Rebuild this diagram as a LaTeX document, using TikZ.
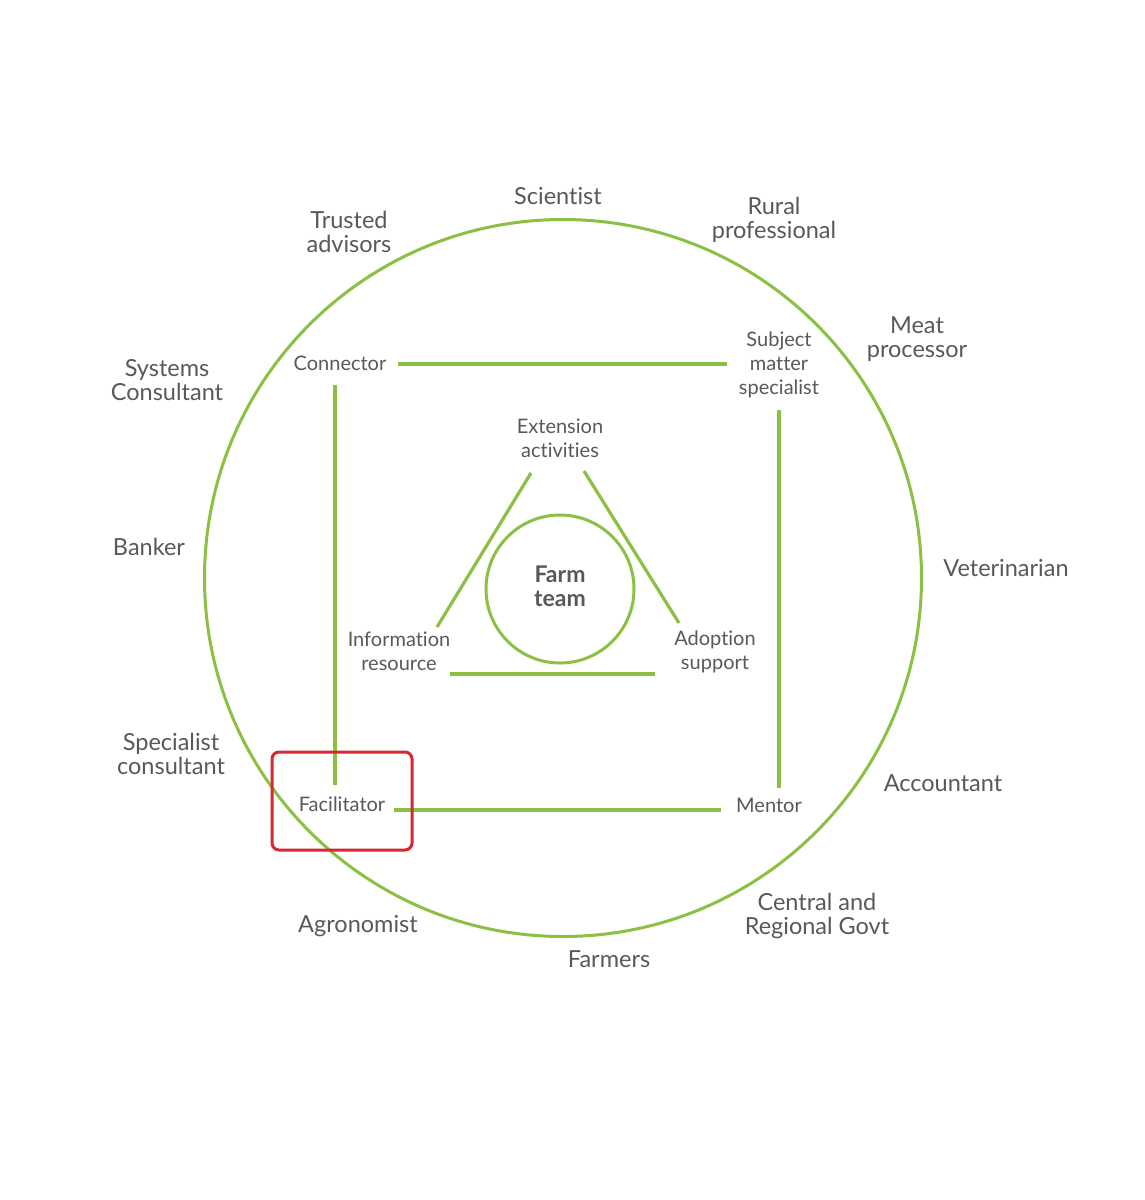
\documentclass[tikz,border=0pt]{standalone}
\usepackage{fontspec}
\setmainfont[Ligatures=NoCommon]{Lato}
\definecolor{leaf}{HTML}{8CC043}
\definecolor{txt}{HTML}{58595B}
\definecolor{boxred}{HTML}{D7282F}
\begin{document}
\begin{tikzpicture}[x=1pt,y=-1pt,
  gl/.style={draw=leaf,line width=3.2pt},
  outer/.style={text=txt,align=center,inner sep=0pt,font=\fontsize{23.5}{24}\selectfont},
  inner/.style={text=txt,align=center,inner sep=0pt,font=\fontsize{20}{24}\selectfont},
  core/.style={text=txt,align=center,inner sep=0pt,font=\bfseries\fontsize{23}{24}\selectfont}]
\useasboundingbox[fill=white] (0,0) rectangle (1145,1200);
% circles
\node[draw=leaf,line width=3pt,circle,minimum size=717pt,inner sep=0pt] (big) at (563,578) {};
\node[draw=leaf,line width=3pt,circle,minimum size=148pt,inner sep=0pt] (farm) at (560,589) {};
\node[core] (farmt) at (560,586) {Farm\\team};
% outer labels
\node[outer] (sci) at (558,196) {Scientist};
\node[outer] (trust) at (349,232) {Trusted\\advisors};
\node[outer] (rural) at (774,220) {Rural\\professional};
\node[outer] (meat) at (917,339) {Meat\\processor};
\node[outer] (sys) at (167,380) {Systems\\Consultant};
\node[outer] (bank) at (149,547) {Banker};
\node[outer] (vet) at (1006,568) {Veterinarian};
\node[outer] (spec) at (171,754) {Specialist\\consultant};
\node[outer] (acc) at (943,783) {Accountant};
\node[outer] (govt) at (817,916) {Central and\\Regional Govt};
\node[outer] (agro) at (358,926) {Agronomist};
\node[outer] (farmers) at (609,959) {Farmers};
% inner labels
\node[inner] (con) at (340,363) {Connector};
\node[inner] (sms) at (779,365) {Subject\\matter\\specialist};
\node[inner] (ext) at (560,438) {Extension\\activities};
\node[inner] (info) at (399,651) {Information\\resource};
\node[inner] (adopt) at (715,652) {Adoption\\support};
\node[inner] (fac) at (342,804) {Facilitator};
\node[inner] (men) at (769,805) {Mentor};
% connector end points
\coordinate (con-e) at (398,364);
\coordinate (sms-w) at (727,364);
\coordinate (con-s) at (335,385);
\coordinate (fac-n) at (335,785);
\coordinate (sms-s) at (779,410);
\coordinate (men-n) at (779,788);
\coordinate (fac-e) at (394,810);
\coordinate (men-w) at (721,810);
\coordinate (ext-sw) at (531,473);
\coordinate (info-ne) at (437,627);
\coordinate (ext-se) at (584,471);
\coordinate (adopt-nw) at (679,623);
\coordinate (info-e) at (450,674);
\coordinate (adopt-w) at (655,674);
% square
\draw[gl] (con-e) -- (sms-w);
\draw[gl] (con-s) -- (fac-n);
\draw[gl] (sms-s) -- (men-n);
\draw[gl] (fac-e) -- (men-w);
% triangle
\draw[gl] (ext-sw) -- (info-ne);
\draw[gl] (ext-se) -- (adopt-nw);
\draw[gl] (info-e) -- (adopt-w);
% highlight
\node[draw=boxred,line width=3pt,rounded corners=7pt,minimum width=140pt,minimum height=98pt,inner sep=0pt] (hl) at (342,801) {};
\end{tikzpicture}
\end{document}
